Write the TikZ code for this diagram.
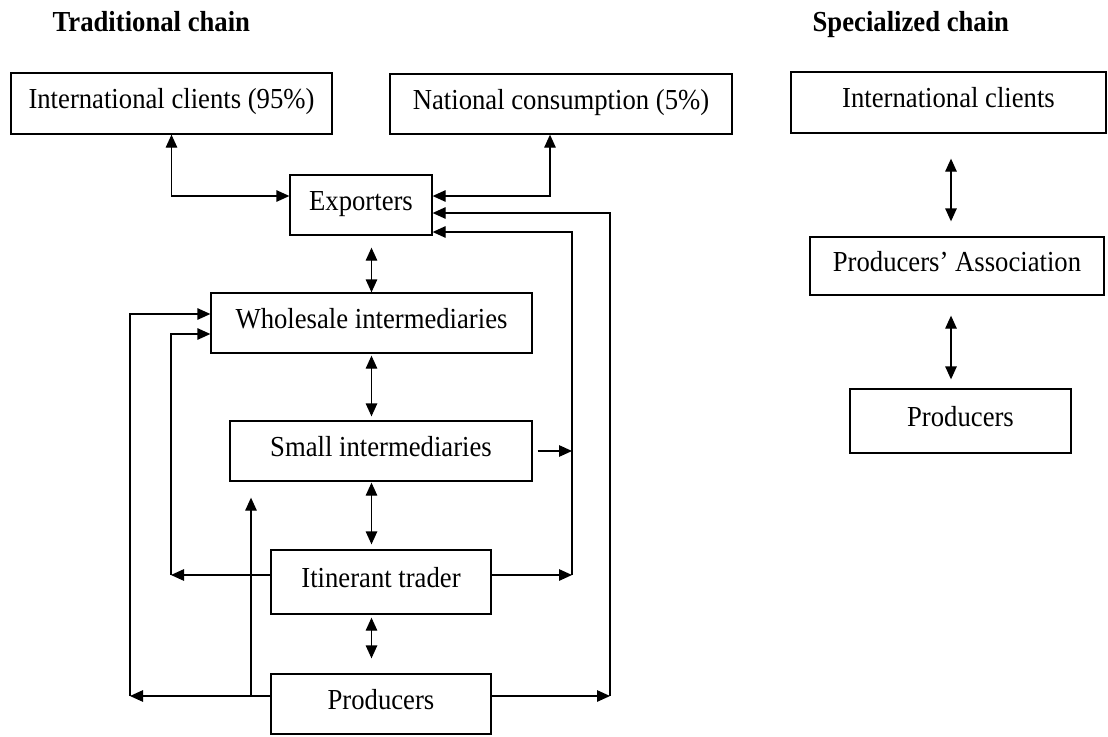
\documentclass[tikz,border=0pt]{standalone}
\usepackage{fontspec}
\setmainfont{Liberation Serif}[FakeStretch=0.92]
\usetikzlibrary{arrows.meta}
\begin{document}
\begin{tikzpicture}[x=1pt,y=-1pt,line width=1.3pt,
  tip/.tip={Triangle[length=13pt,width=11.5pt]},
  box/.style={draw,rectangle,inner sep=0pt,text height=20pt,text depth=10pt,
    font=\fontsize{29}{30}\selectfont},
  heading/.style={anchor=base west,inner sep=0pt,font=\fontsize{29}{30}\selectfont\bfseries},
  oneway/.style={-tip},
  twoway/.style={tip-tip}]
\useasboundingbox (0,0) rectangle (1108,736);

% headings
\node[heading] (ht) at (52,31) {Traditional chain};
\node[heading] (hs) at (812,31) {Specialized chain};

% traditional chain
\node[box,minimum width=321pt,minimum height=61pt] (intl) at (171.5,103.5) {International clients (95\%)};
\node[box,minimum width=342pt,minimum height=60pt] (nat) at (561,104) {National consumption (5\%)};
\node[box,minimum width=142pt,minimum height=60pt] (exp) at (361,205) {Exporters};
\node[box,minimum width=321pt,minimum height=60pt] (whole) at (371.5,323) {Wholesale intermediaries};
\node[box,minimum width=302pt,minimum height=60pt] (small) at (381,451) {Small intermediaries};
\node[box,minimum width=220pt,minimum height=64pt] (itin) at (381,582) {Itinerant trader};
\node[box,minimum width=220pt,minimum height=60pt] (prod) at (381,704) {Producers};

% specialized chain
\node[box,minimum width=315pt,minimum height=61pt] (sic) at (948.5,102.5) {International clients};
\node[box,minimum width=294pt,minimum height=58pt] (pa) at (957,266) {Producers’ Association};
\node[box,minimum width=221pt,minimum height=64pt] (sprod) at (960.5,421) {Producers};

% bend points of the side loops
\coordinate (r1) at (572,575);
\coordinate (r2) at (610,696);
\coordinate (l1) at (171,575);
\coordinate (l2) at (130,696);
\coordinate (l3) at (251,696);
\coordinate (t3) at ([yshift=-16pt]small.south);

% exporters to the two markets
\draw[twoway] (intl.south) |- ([yshift=9pt]exp.west);
\draw[twoway] ([xshift=-11pt]nat.south) |- ([yshift=9pt]exp.east);

% central column
\draw[twoway,shorten <=12pt] (exp.south -| whole.north) -- (whole.north);
\draw[twoway,shorten <=2pt,shorten >=4pt] (whole.south) -- (whole.south |- small.north);
\draw[twoway,shorten <=1pt,shorten >=5pt] (whole.south |- small.south) -- (whole.south |- itin.north);
\draw[twoway,shorten <=3pt,shorten >=15pt] (whole.south |- itin.south) -- (whole.south |- prod.north);

% right-hand loops into the exporters
\draw[oneway] ([yshift=8pt]prod.east) -- (r2);
\draw[oneway] (r2) |- ([yshift=-8pt]exp.east);
\draw[oneway] ([yshift=7pt]itin.east) -- (r1);
\draw[oneway] (r1) |- ([yshift=-27pt]exp.east);
\draw[oneway,shorten <=5pt] (small.east) -- (small.east -| r1);

% left-hand loops into the wholesalers
\draw[oneway] ([yshift=7pt]itin.west) -- (l1);
\draw[oneway] (l1) |- ([yshift=-11pt]whole.west);
\draw[oneway] ([yshift=8pt]prod.west) -- (l2);
\draw[oneway] (l2) |- ([yshift=9pt]whole.west);
\draw[oneway] (l3) -- (l3 |- t3);

% specialized chain links
\draw[twoway,shorten <=25pt,shorten >=15pt] (sic.south -| 951,0) -- (pa.north -| 951,0);
\draw[twoway,shorten <=20pt,shorten >=9pt] (pa.south -| 951,0) -- (sprod.north -| 951,0);
\end{tikzpicture}
\end{document}
